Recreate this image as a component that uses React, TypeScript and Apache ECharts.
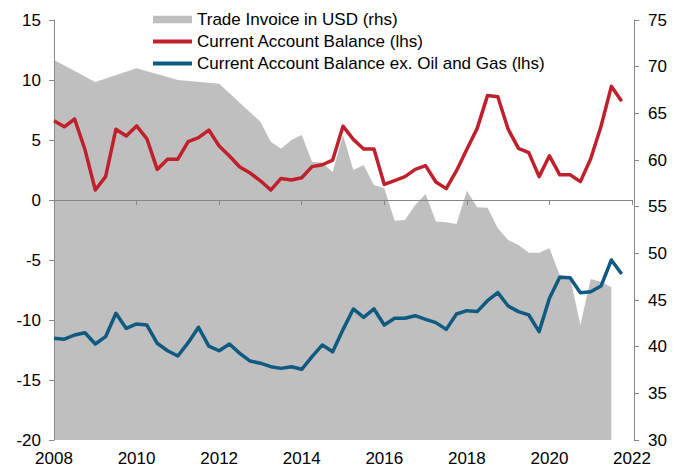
import React, { useEffect, useRef } from "react";
import * as echarts from "echarts";

const YEARS = [2008, 2009, 2010, 2011, 2012, 2013, 2014, 2015, 2016, 2017, 2018, 2019, 2020, 2021];
const QUARTERS = ["Q1", "Q2", "Q3", "Q4"];
const quarters: string[] = YEARS.flatMap((y) => QUARTERS.map((q) => `${y}${q}`));

const caBalance = [
  6.6, 6.1, 6.75, 4.2, 0.83, 1.95, 5.9, 5.33, 6.17, 5.1, 2.55, 3.4, 3.4, 4.86, 5.2, 5.83,
  4.5, 3.67, 2.75, 2.25, 1.6, 0.83, 1.8, 1.67, 1.86, 2.78, 2.94, 3.33, 6.15, 5.05, 4.25, 4.25,
  1.3, 1.62, 1.95, 2.55, 2.86, 1.5, 0.95, 2.44, 4.22, 5.97, 8.7, 8.6, 5.9, 4.3, 3.95, 1.95,
  3.68, 2.1, 2.1, 1.53, 3.43, 6.15, 9.47, 8.22,
];

const caExOilGas = [
  -11.53, -11.6, -11.25, -11.06, -12.0, -11.39, -9.44, -10.7, -10.33, -10.42, -11.94, -12.56, -13.0, -11.89, -10.61, -12.17,
  -12.56, -12.0, -12.78, -13.42, -13.6, -13.89, -14.03, -13.89, -14.11, -13.06, -12.08, -12.64, -10.8, -9.08, -9.78, -9.08,
  -10.42, -9.86, -9.86, -9.64, -9.94, -10.22, -10.78, -9.5, -9.22, -9.3, -8.39, -7.72, -8.83, -9.3, -9.58, -10.97,
  -8.19, -6.44, -6.47, -7.72, -7.64, -7.17, -5.0, -6.17,
];

const tradeQuarters = [
  "2008Q1", "2009Q1", "2010Q1", "2011Q1", "2012Q1",
  "2013Q1", "2013Q2", "2013Q3", "2013Q4", "2014Q1", "2014Q2", "2014Q3", "2014Q4",
  "2015Q1", "2015Q2", "2015Q3", "2015Q4", "2016Q1", "2016Q2", "2016Q3", "2016Q4",
  "2017Q1", "2017Q2", "2017Q3", "2017Q4", "2018Q1", "2018Q2", "2018Q3", "2018Q4",
  "2019Q1", "2019Q2", "2019Q3", "2019Q4", "2020Q1", "2020Q2", "2020Q3", "2020Q4",
  "2021Q1", "2021Q2", "2021Q3",
];
const tradeInvoiceUSD = [
  70.71, 68.35, 69.82, 68.57, 68.17,
  64.1, 61.96, 61.2, 62.14, 62.68, 59.82, 59.7, 58.72,
  62.68, 58.93, 59.46, 57.32, 56.96, 53.5, 53.57, 55.18,
  56.36, 53.42, 53.32, 53.14, 56.71, 54.93, 54.89, 52.7,
  51.43, 50.9, 50.07, 50.07, 50.54, 47.68, 47.43, 42.32,
  47.25, 46.96, 46.36,
];

const LEFT_MIN = -20, LEFT_MAX = 15, LEFT_STEP = 5;
const RIGHT_MIN = 30, RIGHT_MAX = 75, RIGHT_STEP = 5;
const X_MIN = 2008, X_MAX = 2022, X_STEP = 2;

const NAMES = [
  "Trade Invoice in USD (rhs)",
  "Current Account Balance (lhs)",
  "Current Account Balance ex. Oil and Gas (lhs)",
];

const qToX = (q: string) => Number(q.slice(0, 4)) + (Number(q.slice(5)) - 1) / 4;

const FONT = 'Arial, "Liberation Sans", sans-serif';
const FS = 17;
const AXIS_COLOR = "#878787";
const RED = "#C0202B";
const BLUE = "#0E5A80";
const GRAY = "#BFBFBF";

export default function App() {
  const ref = useRef<HTMLDivElement>(null);
  useEffect(() => {
    if (!ref.current) return;
    const chart = echarts.init(ref.current, undefined, { renderer: "svg" });
    const lineIcon = "path://M0,0H40V4H0Z";
    const rectIcon = "path://M0,0H37V7H0Z";
    chart.setOption({
      animation: false,
      textStyle: { fontFamily: FONT },
      grid: { left: 54, right: 49, top: 20, bottom: 28, containLabel: false },
      legend: {
        orient: "vertical",
        left: 153,
        top: 11,
        padding: 0,
        itemWidth: 39,
        itemHeight: 10,
        itemGap: 5,
        textStyle: { fontFamily: FONT, fontSize: FS, color: "#000", lineHeight: 17 },
        data: [
          { name: NAMES[0], icon: rectIcon },
          { name: NAMES[1], icon: lineIcon },
          { name: NAMES[2], icon: lineIcon },
        ],
      },
      xAxis: [
        {
          type: "value",
          min: X_MIN,
          max: X_MAX,
          interval: X_STEP,
          z: 5,
          axisLine: { show: true, onZero: true, onZeroAxisIndex: 0, lineStyle: { color: AXIS_COLOR, width: 1 } },
          axisTick: { show: true, length: 5, lineStyle: { color: AXIS_COLOR } },
          axisLabel: { show: false },
          splitLine: { show: false },
        },
        {
          type: "value",
          position: "bottom",
          min: X_MIN,
          max: X_MAX,
          interval: X_STEP,
          axisLine: { show: false, onZero: false },
          axisTick: { show: false },
          axisLabel: { show: true, margin: 10, fontSize: FS, color: "#000", fontFamily: FONT, formatter: (v: number) => String(v) },
          splitLine: { show: false },
        },
      ],
      yAxis: [
        {
          type: "value",
          position: "left",
          min: LEFT_MIN,
          max: LEFT_MAX,
          interval: LEFT_STEP,
          z: 5,
          axisLine: { show: true, onZero: false, lineStyle: { color: AXIS_COLOR } },
          axisTick: { show: true, length: 5, lineStyle: { color: AXIS_COLOR } },
          axisLabel: { margin: 13, fontSize: FS, color: "#000", fontFamily: FONT },
          splitLine: { show: false },
        },
        {
          type: "value",
          position: "right",
          offset: 2,
          min: RIGHT_MIN,
          max: RIGHT_MAX,
          interval: RIGHT_STEP,
          z: 5,
          axisLine: { show: true, onZero: false, lineStyle: { color: AXIS_COLOR } },
          axisTick: { show: true, length: 5, lineStyle: { color: AXIS_COLOR } },
          axisLabel: { margin: 14, fontSize: FS, color: "#000", fontFamily: FONT },
          splitLine: { show: false },
        },
      ],
      series: [
        {
          name: NAMES[0],
          type: "line",
          xAxisIndex: 0,
          yAxisIndex: 1,
          symbol: "none",
          color: GRAY,
          lineStyle: { width: 0, color: GRAY },
          areaStyle: { color: GRAY, opacity: 1, origin: "start" },
          data: tradeQuarters.map((q, i) => [qToX(q), tradeInvoiceUSD[i]]),
          z: 1,
        },
        {
          name: NAMES[1],
          type: "line",
          xAxisIndex: 0,
          yAxisIndex: 0,
          symbol: "none",
          color: RED,
          lineStyle: { width: 3.5, color: RED, join: "round" },
          data: quarters.map((q, i) => [qToX(q), caBalance[i]]),
          z: 6,
        },
        {
          name: NAMES[2],
          type: "line",
          xAxisIndex: 0,
          yAxisIndex: 0,
          symbol: "none",
          color: BLUE,
          lineStyle: { width: 3.5, color: BLUE, join: "round" },
          data: quarters.map((q, i) => [qToX(q), caExOilGas[i]]),
          z: 6,
        },
      ],
    });
    return () => chart.dispose();
  }, []);
  return (
    <div
      ref={ref}
      style={{ position: "fixed", left: 0, top: 0, width: 681, height: 468, background: "#fff" }}
    />
  );
}
